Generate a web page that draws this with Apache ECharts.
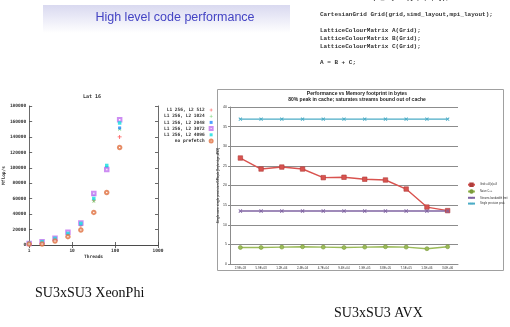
<!DOCTYPE html>
<html>
<head>
<meta charset="utf-8">
<script src="https://cdn.jsdelivr.net/npm/echarts@6/dist/echarts.min.js"></script>
<style>
  html, body { margin: 0; padding: 0; background: #fff; }
  #main { width: 510px; height: 327px; }
</style>
</head>
<body>
<div id="main"></div>
<script>
// left plot: Lat 16 on XeonPhi, Mflop/s against thread count
const threads = [1, 2, 4, 8, 16, 32, 64, 128];
const l2_512 = [1800, 3800, 8000, 14500, 25400, 58100, 99000, 140000];
const l2_1024 = [1900, 4000, 8200, 14800, 26000, 56800, 100000, 150000];
const l2_2048 = [2000, 4200, 8400, 14200, 27000, 65400, 100000, 151600];
const l2_3072 = [2000, 4300, 8600, 16400, 28500, 66700, 97700, 162300];
const l2_4096 = [2150, 4300, 8600, 15000, 28000, 60300, 103000, 158000];
const noPrefetch = [1200, 1300, 5200, 10800, 19400, 42200, 68000, 126200];
const leftNames = ['L1 256, L2 512', 'L1 256, L2 1024', 'L1 256, L2 2048',
  'L1 256, L2 3072', 'L1 256, L2 4096', 'no prefetch'];

// right plot: AVX, GFlop/s against memory footprint
const memLabels = ['2.9E+03', '5.9E+03', '1.2E+04', '2.4E+04', '4.7E+04', '9.4E+04',
  '1.9E+05', '3.8E+05', '7.5E+05', '1.5E+06', '3.0E+06'];
const gridSU3 = [27.0, 24.2, 24.7, 24.2, 22.0, 22.1, 21.6, 21.4, 19.1, 14.5, 13.6];
const naiveCpp = [4.2, 4.2, 4.3, 4.4, 4.3, 4.2, 4.3, 4.4, 4.3, 3.9, 4.4];
const streamsLimit = [13.5, 13.5, 13.5, 13.5, 13.5, 13.5, 13.5, 13.5, 13.5, 13.5, 13.5];
const spPeak = [36.9, 36.9, 36.9, 36.9, 36.9, 36.9, 36.9, 36.9, 36.9, 36.9, 36.9];
const rightNames = ['Grid su3(x)su3', 'Naive C++', 'Streams bandwidth limit', 'Single precision peak'];

const codeLines = [
  'CartesianGrid Grid(grid,simd_layout,mpi_layout);',
  '',
  'LatticeColourMatrix A(Grid);',
  'LatticeColourMatrix B(Grid);',
  'LatticeColourMatrix C(Grid);',
  '',
  'A = B + C;'
];

const chart = echarts.init(document.getElementById('main'));

const plus = 'path://M4,0H6V4H10V6H6V10H4V6H0V4H4Z';
const mono = 'DejaVu Sans Mono';
const gpLabel = { fontSize: 4.5, fontFamily: mono, fontWeight: 'bold', color: '#333' };
const gpLine = { color: '#444', width: 0.8 };
const pair = (ys) => threads.map((t, i) => [t, ys[i]]);
const pad = (s) => s.padStart(15, ' ');
const plain = (v) => String(v);

const gpSeries = [
  { data: l2_512, color: '#ff3030', symbol: plus, size: 4 },
  { data: l2_1024, color: '#60d060', symbol: plus, size: 4, rotate: 45 },
  { data: l2_2048, color: '#2088ff', symbol: 'rect', size: 3 },
  { data: l2_3072, color: '#c070f0', symbol: 'emptyRect', size: 3.5 },
  { data: l2_4096, color: '#10dede', symbol: 'rect', size: 3.5 },
  { data: noPrefetch, color: '#e07040', symbol: 'emptyCircle', size: 3.5 }
].map((s, i) => ({
  name: pad(leftNames[i]),
  type: 'scatter',
  xAxisIndex: 0,
  yAxisIndex: 0,
  symbol: s.symbol,
  symbolSize: s.size,
  symbolRotate: s.rotate || 0,
  itemStyle: { color: s.color, borderWidth: s.symbol.startsWith('empty') ? 0.8 : 0 },
  data: pair(s.data)
}));

const xMark = 'path://M4,0H6V4H10V6H6V10H4V6H0V4H4Z';
const xlSeries = [
  { data: gridSU3, color: '#d9534f', symbol: 'rect', size: 4.5, border: '#b03c3a' },
  { data: naiveCpp, color: '#9bbb59', symbol: 'circle', size: 4, border: '#7a9a3a' },
  { data: streamsLimit, color: '#8064a2', symbol: xMark, size: 4.5, rotate: 45 },
  { data: spPeak, color: '#4bacc6', symbol: xMark, size: 4.5, rotate: 45 }
].map((s, i) => ({
  name: rightNames[i],
  type: 'line',
  xAxisIndex: 2,
  yAxisIndex: 2,
  symbol: s.symbol,
  symbolSize: s.size,
  symbolRotate: s.rotate || 0,
  showAllSymbol: true,
  lineStyle: { color: s.color, width: 1.4 },
  itemStyle: { color: s.color, borderColor: s.border || s.color, borderWidth: s.border ? 0.6 : 0 },
  data: s.data
}));

const graphics = [
  {
    type: 'rect', z: -10,
    shape: { x: 43, y: 5, width: 247, height: 28 },
    style: {
      fill: new echarts.graphic.LinearGradient(0, 0, 0, 1, [
        { offset: 0, color: '#d9d9f0' },
        { offset: 1, color: '#ffffff' }
      ])
    }
  },
  {
    type: 'text', x: 175, y: 18,
    style: {
      text: 'High level code performance', fill: '#4444c4',
      font: '12.5px "Liberation Sans"', textAlign: 'center', textVerticalAlign: 'middle',
      align: 'center', verticalAlign: 'middle'
    }
  },
  {
    type: 'text', x: 370, y: -1.8,
    style: {
      text: 'mpi_layout({1,1,1,1});', fill: '#333', font: 'bold 6px "Liberation Mono"',
      textVerticalAlign: 'middle', verticalAlign: 'middle'
    }
  },
  {
    type: 'rect',
    shape: { x: 217.5, y: 89.5, width: 286, height: 181 },
    style: { fill: 'none', stroke: '#a0a0a0', lineWidth: 1 }
  },
  {
    type: 'text', x: 92, y: 97,
    style: {
      text: 'Lat 16', fill: '#333', font: 'bold 5px "DejaVu Sans Mono"',
      textAlign: 'center', textVerticalAlign: 'middle', align: 'center', verticalAlign: 'middle'
    }
  },
  {
    type: 'text', x: 357, y: 97,
    style: {
      text: 'Performance vs Memory footprint in bytes\n80% peak in cache; saturates streams bound out of cache',
      fill: '#222', font: 'bold 5px "Liberation Sans"', lineHeight: 6.2,
      textAlign: 'center', textVerticalAlign: 'middle', align: 'center', verticalAlign: 'middle'
    }
  },
  {
    type: 'text', x: 35, y: 293,
    style: {
      text: 'SU3xSU3 XeonPhi', fill: '#111', font: '14px "Liberation Serif"',
      textVerticalAlign: 'middle', verticalAlign: 'middle'
    }
  },
  {
    type: 'text', x: 334, y: 313,
    style: {
      text: 'SU3xSU3 AVX', fill: '#111', font: '14px "Liberation Serif"',
      textVerticalAlign: 'middle', verticalAlign: 'middle'
    }
  }
];
const codeY = [14.3, 22, 30, 38.3, 46.7, 55, 62];
codeLines.forEach((line, i) => {
  if (!line) return;
  graphics.push({
    type: 'text', x: 320, y: codeY[i],
    style: {
      text: line, fill: '#333', font: 'bold 6px "Liberation Mono"',
      textVerticalAlign: 'middle', verticalAlign: 'middle'
    }
  });
});

const option = {
  animation: false,
  backgroundColor: '#fff',
  graphic: graphics,
  grid: [
    { left: 28, top: 106, width: 130, height: 139 },
    { left: 230, top: 107, width: 228, height: 157 }
  ],
  legend: [
    {
      data: gpSeries.map((s) => s.name),
      orient: 'vertical', left: 159, top: 102.5, align: 'right',
      itemWidth: 3, itemHeight: 3, itemGap: 1.2,
      textStyle: { fontSize: 4.5, fontFamily: mono, fontWeight: 'bold', color: '#333', lineHeight: 4 }
    },
    {
      data: rightNames,
      orient: 'vertical', left: 462, top: 177.5,
      itemWidth: 7, itemHeight: 3, itemGap: 2.4,
      textStyle: { fontSize: 2.6, fontFamily: 'Liberation Sans', color: '#333', lineHeight: 3 }
    }
  ],
  xAxis: [
    {
      type: 'log', logBase: 10, gridIndex: 0, min: 1, max: 1000, position: 'bottom',
      axisLine: { show: true, lineStyle: gpLine },
      axisTick: { show: true, inside: true, length: 3, lineStyle: gpLine },
      minorTick: { show: false },
      splitLine: { show: false },
      axisLabel: Object.assign({ margin: 3, formatter: plain }, gpLabel),
      name: 'Threads', nameLocation: 'middle', nameGap: 9,
      nameTextStyle: gpLabel
    },
    {
      type: 'log', logBase: 10, gridIndex: 0, min: 1, max: 1000, position: 'top',
      axisLine: { show: true, lineStyle: gpLine },
      axisTick: { show: true, inside: true, length: 3, lineStyle: gpLine },
      splitLine: { show: false },
      axisLabel: { show: false }
    },
    {
      type: 'category', gridIndex: 1, data: memLabels, boundaryGap: true,
      axisLine: { show: true, lineStyle: { color: '#8c8c8c', width: 1 } },
      axisTick: { show: false },
      axisLabel: { fontSize: 3, interval: 0, margin: 3, color: '#333', fontFamily: 'Liberation Sans' }
    }
  ],
  yAxis: [
    {
      type: 'value', gridIndex: 0, min: 0, max: 180000, interval: 20000,
      axisLine: { show: true, lineStyle: gpLine },
      axisTick: { show: true, inside: true, length: 3, lineStyle: gpLine },
      splitLine: { show: false },
      axisLabel: Object.assign({ margin: 3, formatter: plain }, gpLabel),
      name: 'Mflop/s', nameLocation: 'middle', nameGap: 20, nameRotate: 90,
      nameTextStyle: gpLabel
    },
    {
      type: 'value', gridIndex: 0, min: 0, max: 180000, interval: 20000, position: 'right',
      axisLine: { show: true, lineStyle: gpLine },
      axisTick: { show: true, inside: true, length: 3, lineStyle: gpLine },
      splitLine: { show: false },
      axisLabel: { show: false }
    },
    {
      type: 'value', gridIndex: 1, min: 0, max: 40, interval: 5,
      axisLine: { show: true, lineStyle: { color: '#8c8c8c', width: 1 } },
      axisTick: { show: true, length: 2, lineStyle: { color: '#8c8c8c' } },
      splitLine: { show: true, lineStyle: { color: '#8c8c8c', width: 1 } },
      axisLabel: { fontSize: 3.5, margin: 3, color: '#333', fontFamily: 'Liberation Sans' },
      name: 'Single core single precision GFlop/s (Ivybridge, AVX)', nameLocation: 'middle',
      nameGap: 8, nameRotate: 90,
      nameTextStyle: { fontSize: 3, color: '#333', fontFamily: 'Liberation Sans', fontWeight: 'bold' }
    }
  ],
  series: gpSeries.concat(xlSeries)
};

chart.setOption(option);
</script>
</body>
</html>
